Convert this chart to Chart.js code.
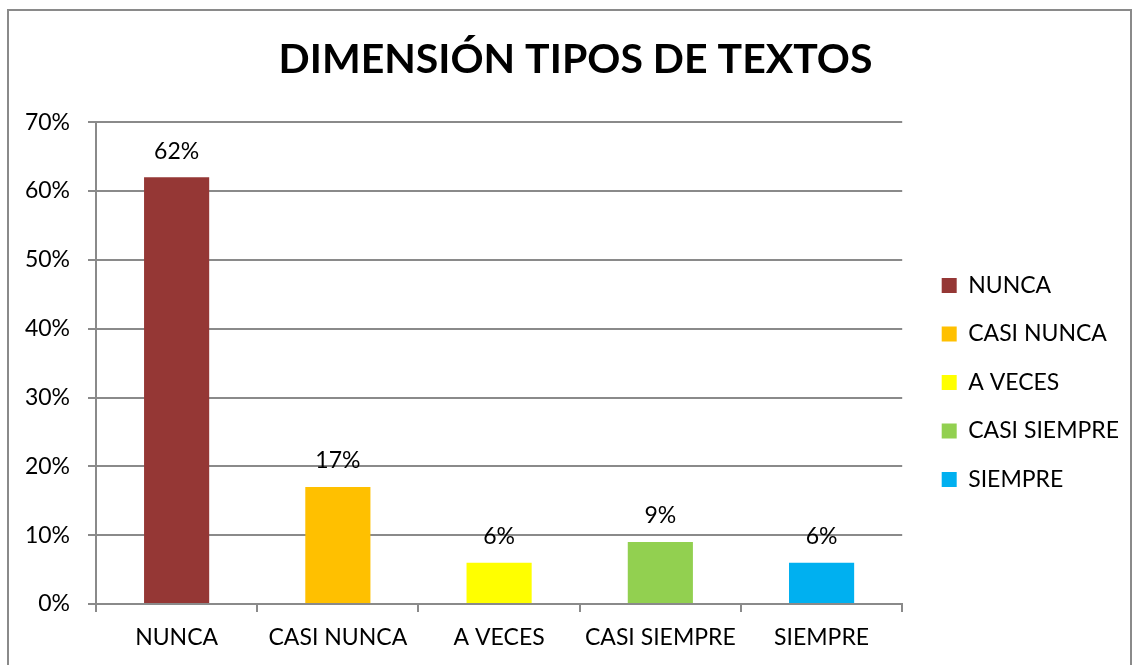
<!DOCTYPE html>
<html>
<head>
<meta charset="utf-8">
<script src="https://cdn.jsdelivr.net/npm/chart.js@4.4.1/dist/chart.umd.min.js"></script>
<style>
  html, body { margin: 0; padding: 0; background: #fff; }
  #wrap { position: relative; width: 1133px; height: 665px; }
</style>
</head>
<body>
<div id="wrap"><canvas id="chart1" width="1133" height="665"></canvas></div>
<script>
// Données du graphique
const categorias = ['NUNCA', 'CASI NUNCA', 'A VECES', 'CASI SIEMPRE', 'SIEMPRE'];
const valores = [62, 17, 6, 9, 6];
const colores = ['#953735', '#FFC000', '#FFFF00', '#92D050', '#00B0F0'];
const ejeMax = 70;
const ejePaso = 10;
const titulo = 'DIMENSIÓN TIPOS DE TEXTOS';

const fuente = 'Lato, Carlito, "Open Sans", sans-serif';
const gris = '#8a8a8a';

// Cadre autour du graphique
const cadrePlugin = {
    id: 'cadre',
    beforeDraw(chart) {
        const ctx = chart.ctx;
        ctx.save();
        ctx.fillStyle = '#fff';
        ctx.fillRect(0, 0, chart.width, chart.height);
        ctx.strokeStyle = gris;
        ctx.lineWidth = 2;
        ctx.strokeRect(8, 10, chart.width - 10, chart.height + 20);
        ctx.restore();
    }
};

// Étiquettes de valeurs au-dessus des barres
const etiquettesPlugin = {
    id: 'etiquettes',
    afterDatasetsDraw(chart) {
        const ctx = chart.ctx;
        const meta = chart.getDatasetMeta(0);
        ctx.save();
        ctx.font = '23px ' + fuente;
        ctx.fillStyle = '#000';
        ctx.textAlign = 'center';
        ctx.textBaseline = 'middle';
        meta.data.forEach((bar, i) => {
            ctx.fillText(valores[i] + '%', bar.x, bar.y - 26);
        });
        ctx.restore();
    }
};

new Chart(document.getElementById('chart1'), {
    type: 'bar',
    data: {
        labels: categorias,
        datasets: [{
            data: valores,
            backgroundColor: colores,
            borderWidth: 0,
            categoryPercentage: 1,
            barPercentage: 0.404
        }]
    },
    options: {
        responsive: false,
        animation: false,
        layout: { padding: { top: 10, right: 4, bottom: 0, left: 22 } },
        plugins: {
            tooltip: { enabled: false },
            title: {
                display: true,
                text: titulo,
                color: '#000',
                font: { family: fuente, size: 41, weight: 'bold' },
                padding: { top: 25, bottom: 38 }
            },
            legend: {
                position: 'right',
                maxWidth: 400,
                title: {
                    display: true,
                    text: ' ',
                    color: '#000',
                    font: { size: 10 },
                    padding: { top: 0, bottom: 78 }
                },
                labels: {
                    color: '#000',
                    font: { family: fuente, size: 23 },
                    boxWidth: 15,
                    boxHeight: 15,
                    padding: 25.5,
                    generateLabels: () => categorias.map((c, i) => ({
                        text: c,
                        fillStyle: colores[i],
                        strokeStyle: colores[i],
                        fontColor: '#000',
                        lineWidth: 0,
                        index: i
                    }))
                }
            }
        },
        scales: {
            x: {
                grid: { display: true, drawOnChartArea: false, offset: true, color: gris, lineWidth: 2, tickLength: 8 },
                border: { display: true, color: gris, width: 2 },
                ticks: { color: '#000', font: { family: fuente, size: 23 }, padding: 12, maxRotation: 0 },
                afterFit: s => { s.height = 61; }
            },
            y: {
                min: 0,
                max: ejeMax,
                ticks: {
                    stepSize: ejePaso,
                    color: '#000',
                    font: { family: fuente, size: 23 },
                    padding: 18,
                    callback: v => v + '%'
                },
                grid: { color: gris, lineWidth: 2, tickLength: 8 },
                border: { display: true, color: gris, width: 2 },
                afterFit: s => { s.width = 74; }
            },
            espacio: {
                type: 'linear',
                position: 'right',
                display: true,
                grid: { display: false },
                border: { display: false },
                ticks: { display: false },
                afterFit: s => { s.width = 14; }
            }
        }
    },
    plugins: [cadrePlugin, etiquettesPlugin]
});
</script>
</body>
</html>
